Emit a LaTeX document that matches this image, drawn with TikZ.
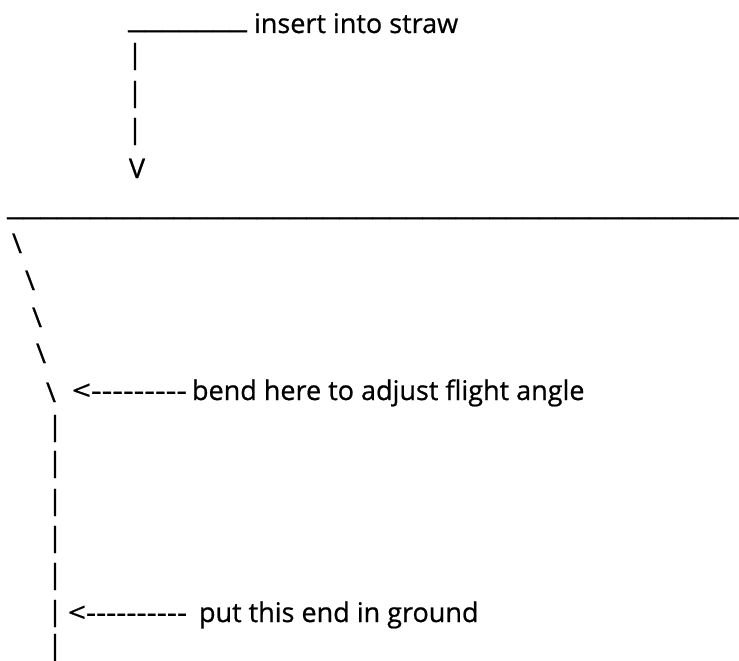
\documentclass[tikz,border=0pt]{standalone}
\usepackage{fontspec}
\setmainfont{Open Sans}[Ligatures=TeXOff,FakeBold=0.7]
\usepackage{graphicx}
\newcommand{\fitw}[2]{\resizebox*{#1}{\totalheight}{#2}}
\begin{document}
\begin{tikzpicture}[x=1pt,y=-1pt,
  every node/.style={inner sep=0pt, outer sep=0pt, font=\fontsize{27}{32}\selectfont},
  txt/.style={anchor=base west},
  bar/.style={anchor=south}]
\useasboundingbox[fill=white] (0,0) rectangle (739,661);
% top: insert into straw
\node[txt] (u1) at (128,28) {\fitw{119pt}{\_\_\_\_\_\_\_}};
\node[txt] (t1) at (254,33) {insert into straw};
\node[bar] (p1) at (135,70) {|};
\node[bar] (p2) at (135,108) {|};
\node[bar] (p3) at (135,145) {|};
\node[bar] (v) at (137,178) {V};
% long line
\node[txt] (u2) at (7,215) {\fitw{732pt}{\_\_\_\_\_\_\_\_\_\_\_\_\_\_\_\_\_\_\_\_\_\_\_\_\_\_\_\_\_\_\_\_\_\_\_\_\_\_\_\_\_\_\_\_}};
% bent part
\node[bar] (s1) at (17,253) {\textbackslash};
\node[bar] (s2) at (30,290) {\textbackslash};
\node[bar] (s3) at (37,327) {\textbackslash};
\node[bar] (s4) at (41,363) {\textbackslash};
\node[bar] (s5) at (51,402) {\textbackslash};
\node[txt] (a1) at (72,400) {\fitw{115pt}{<---------}};
\node[txt] (t2) at (192,400) {bend here to adjust flight angle};
% straight part
\node[bar] (q1) at (55,442) {|};
\node[bar] (q2) at (55,478) {|};
\node[bar] (q3) at (55,516) {|};
\node[bar] (q4) at (55,553) {|};
\node[bar] (q5) at (55,590) {|};
\node[bar] (q6) at (55,627) {|};
\node[bar] (q7) at (55,661) {|};
\node[txt] (a2) at (68,622) {\fitw{119pt}{<----------}};
\node[txt] (t3) at (199,622) {put this end in ground};
\end{tikzpicture}
\end{document}
